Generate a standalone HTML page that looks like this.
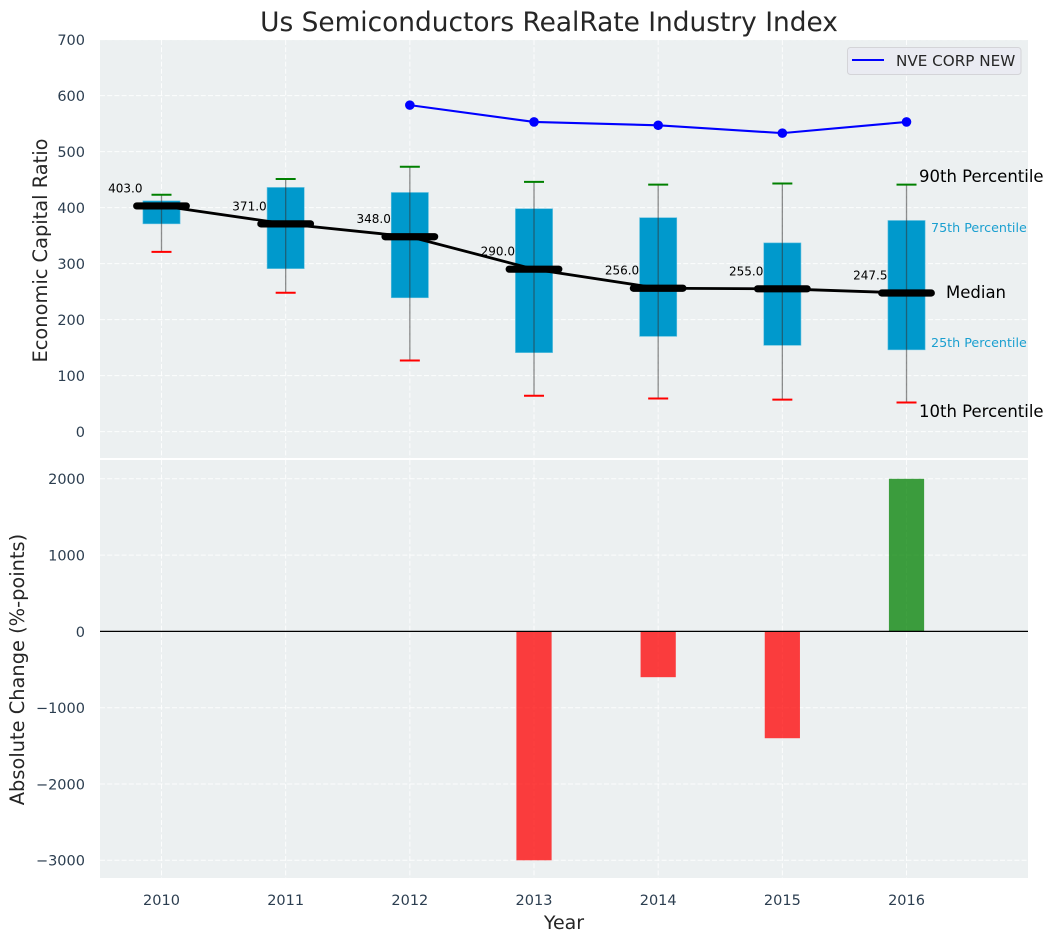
<!DOCTYPE html>
<html>
<head>
<meta charset="utf-8">
<title>Us Semiconductors RealRate Industry Index</title>
<style>
html,body{margin:0;padding:0;background:#fff;}
svg{display:block;font-family:"DejaVu Sans","Liberation Sans",sans-serif;}
</style>
</head>
<body>
<svg id="chart" xmlns="http://www.w3.org/2000/svg" width="1054" height="942" viewBox="0 0 1054 942">
  <rect x="100" y="40" width="928" height="418" fill="#ecf0f1"/>
  <rect x="100" y="460" width="928" height="418" fill="#ecf0f1"/>
  <g id="grid"></g>
  <g id="marks"></g>
  <g id="ticks" fill="#2c3e50" font-size="14.5"></g>
  <text x="549" y="31" text-anchor="middle" font-size="26.4" fill="#262626">Us Semiconductors RealRate Industry Index</text>
  <text transform="translate(47,250.5) rotate(-90)" text-anchor="middle" font-size="19.4" fill="#262626">Economic Capital Ratio</text>
  <text transform="translate(24,669.5) rotate(-90)" text-anchor="middle" font-size="19.4" fill="#262626">Absolute Change (%-points)</text>
  <text x="564" y="929" text-anchor="middle" font-size="19" fill="#262626">Year</text>
  <text x="919" y="182" font-size="16.5" fill="#000">90th Percentile</text>
  <text x="931" y="232" font-size="12.7" fill="#1a9fd0">75th Percentile</text>
  <text x="946" y="298" font-size="16.5" fill="#000">Median</text>
  <text x="931" y="347" font-size="12.7" fill="#1a9fd0">25th Percentile</text>
  <text x="919" y="417" font-size="16.5" fill="#000">10th Percentile</text>
  <g>
    <rect x="847.5" y="47.5" width="173.5" height="27" rx="3" fill="#eaeaf2" fill-opacity="0.85" stroke="#d4d4d8" stroke-width="1"/>
    <line x1="852" y1="60" x2="884" y2="60" stroke="#0000ff" stroke-width="2"/>
    <text x="896" y="66" font-size="15.2" fill="#262626">NVE CORP NEW</text>
  </g>
</svg>
<script>
const years = [2010, 2011, 2012, 2013, 2014, 2015, 2016];
const p10 = [321, 248, 127, 64, 59, 57, 52];
const p25 = [371, 291, 239, 141, 170, 154, 146];
const medians = [403, 371, 348, 290, 256, 255, 247.5];
const p75 = [412, 436, 427, 398, 382, 337, 377];
const p90 = [423, 451, 473, 446, 441, 443, 441];
const medianLabels = ['403.0', '371.0', '348.0', '290.0', '256.0', '255.0', '247.5'];
const nveYears = [2012, 2013, 2014, 2015, 2016];
const nveValues = [583, 553, 547, 533, 553];
const changeYears = [2013, 2014, 2015, 2016];
const changeValues = [-3000, -600, -1400, 2000];
const topTicks = [0, 100, 200, 300, 400, 500, 600, 700];
const bottomTicks = [-3000, -2000, -1000, 0, 1000, 2000];

const NS = 'http://www.w3.org/2000/svg';
const xScale = v => 161.5 + (v - 2010) * 124.17;
const yTop = v => 431.6 - v * 0.56;
const yBottom = v => 631.4 - v * 0.0763;
const gridG = document.getElementById('grid');
const marksG = document.getElementById('marks');
const ticksG = document.getElementById('ticks');

function mk(tag, attrs, parent) {
  const el = document.createElementNS(NS, tag);
  for (const k in attrs) el.setAttribute(k, attrs[k]);
  parent.appendChild(el);
  return el;
}
const gridStyle = {stroke: '#ffffff', 'stroke-width': 1, 'stroke-dasharray': '5 2.2', 'stroke-opacity': 0.85};

years.forEach(y => {
  const x = xScale(y);
  const a = mk('line', Object.assign({x1: x, x2: x, y1: 40, y2: 458}, gridStyle), gridG);
  
  
  const b = mk('line', Object.assign({x1: x, x2: x, y1: 460, y2: 878}, gridStyle), gridG);
  
  
  const t = mk('text', {x: x, y: 905, 'text-anchor': 'middle'}, ticksG);
  t.textContent = String(y);
  
  
});

topTicks.forEach(v => {
  const y = yTop(v);
  const g = mk('line', Object.assign({x1: 100, x2: 1028, y1: y, y2: y}, gridStyle), gridG);
  
  
  const t = mk('text', {x: 85, y: y + 5.4, 'text-anchor': 'end'}, ticksG);
  t.textContent = String(v);
  
  
});

bottomTicks.forEach(v => {
  const y = yBottom(v);
  const g = mk('line', Object.assign({x1: 100, x2: 1028, y1: y, y2: y}, gridStyle), gridG);
  
  
  const t = mk('text', {x: 85, y: y + 5.4, 'text-anchor': 'end'}, ticksG);
  t.textContent = String(v).replace('-', '\u2212');
  
  
});

years.forEach((yr, i) => {
  const x = xScale(yr);
  const box = mk('rect', {x: x - 18.6, y: yTop(p75[i]), width: 37.2, height: yTop(p25[i]) - yTop(p75[i]), fill: '#0099cc', stroke: '#66c2e0', 'stroke-width': 0.6}, marksG);
  
  
  const w = mk('line', {x1: x, x2: x, y1: yTop(p90[i]), y2: yTop(p10[i]), stroke: '#333333', 'stroke-opacity': 0.55, 'stroke-width': 1.3}, marksG);
  
  
  const hi = mk('line', {x1: x - 10, x2: x + 10, y1: yTop(p90[i]), y2: yTop(p90[i]), stroke: '#008000', 'stroke-width': 2}, marksG);
  
  
  const lo = mk('line', {x1: x - 10, x2: x + 10, y1: yTop(p10[i]), y2: yTop(p10[i]), stroke: '#ff0000', 'stroke-width': 2}, marksG);
  
  
});

const medianPath = mk('polyline', {points: years.map((yr, i) => xScale(yr) + ',' + yTop(medians[i])).join(' '), fill: 'none', stroke: '#000', 'stroke-width': 2.8}, marksG);



years.forEach((yr, i) => {
  const x = xScale(yr);
  const y = yTop(medians[i]);
  const m = mk('line', {x1: x - 24.8, x2: x + 24.8, y1: y, y2: y, stroke: '#000', 'stroke-width': 7.2, 'stroke-linecap': 'round'}, marksG);
  
  
  const t = mk('text', {x: x - 19, y: y - 13.5, 'text-anchor': 'end', 'font-size': 12, fill: '#000'}, marksG);
  t.textContent = medianLabels[i];
  
  
});

const nveLine = mk('polyline', {points: nveYears.map((yr, i) => xScale(yr) + ',' + yTop(nveValues[i])).join(' '), fill: 'none', stroke: '#0000ff', 'stroke-width': 2.1}, marksG);



nveYears.forEach((yr, i) => {
  const c = mk('circle', {cx: xScale(yr), cy: yTop(nveValues[i]), r: 4.8, fill: '#0000ff'}, marksG);
  
  
});

changeYears.forEach((yr, i) => {
  const v = changeValues[i];
  const top = Math.min(yBottom(v), yBottom(0));
  const h = Math.abs(yBottom(v) - yBottom(0));
  const r = mk('rect', {x: xScale(yr) - 17.6, y: top, width: 35.2, height: h, fill: v < 0 ? '#ff0000' : '#008000', 'fill-opacity': 0.75}, marksG);
  
  
});

const zero = mk('line', {x1: 100, x2: 1028, y1: yBottom(0), y2: yBottom(0), stroke: '#000', 'stroke-width': 1.2}, marksG);


</script>
</body>
</html>
